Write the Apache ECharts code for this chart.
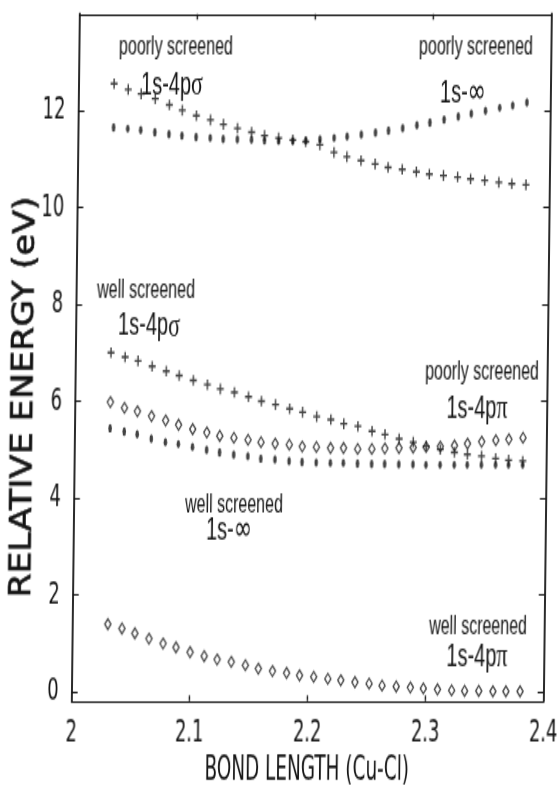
<!DOCTYPE html>
<html>
<head>
<meta charset="utf-8">
<script src="https://cdn.jsdelivr.net/npm/echarts@6/dist/echarts.min.js"></script>
<style>
  html, body { margin: 0; padding: 0; background: #fff; overflow: hidden; }
  /* The plot is laid out in a compressed frame and stretched vertically,
     with a slight horizontal shear, to give the tall narrow lettering. */
  #chart {
    position: absolute; left: 0; top: 0;
    width: 580px; height: 494px;
    transform-origin: 0 0;
    transform: skewX(-0.667deg) scaleY(1.6012);
  }
</style>
</head>
<body>
<div id="chart"></div>
<script>
// Cu-Cl bond length (angstrom)
const bondLength = [2.030, 2.042, 2.053, 2.065, 2.077, 2.088, 2.100, 2.112, 2.123, 2.135,
                    2.147, 2.158, 2.170, 2.182, 2.193, 2.205, 2.217, 2.228, 2.240, 2.252,
                    2.263, 2.275, 2.287, 2.298, 2.310, 2.322, 2.333, 2.345, 2.357, 2.368, 2.380];

// Relative energies (eV)
const poorly4pSigma = [12.56, 12.44, 12.35, 12.25, 12.12, 12.01, 11.90, 11.81, 11.72, 11.64,
                       11.56, 11.49, 11.44, 11.40, 11.36, 11.30, 11.14, 11.05, 10.97, 10.90,
                       10.83, 10.79, 10.74, 10.69, 10.66, 10.63, 10.59, 10.56, 10.52, 10.49, 10.47];
const poorlyInf = [11.66, 11.63, 11.60, 11.56, 11.52, 11.49, 11.46, 11.44, 11.42, 11.41,
                   11.40, 11.39, 11.38, 11.38, 11.39, 11.41, 11.44, 11.47, 11.51, 11.55,
                   11.59, 11.64, 11.70, 11.76, 11.82, 11.88, 11.94, 12.00, 12.06, 12.11, 12.17];
const well4pSigma = [7.00, 6.91, 6.83, 6.72, 6.62, 6.53, 6.43, 6.34, 6.25, 6.18,
                     6.09, 6.00, 5.93, 5.84, 5.77, 5.68, 5.62, 5.53, 5.48, 5.38,
                     5.31, 5.22, 5.15, 5.07, 5.00, 4.94, 4.90, 4.86, 4.81, 4.78, 4.76];
const poorly4pPi = [5.98, 5.86, 5.79, 5.69, 5.60, 5.51, 5.42, 5.35, 5.28, 5.24,
                    5.20, 5.15, 5.12, 5.10, 5.06, 5.05, 5.03, 5.03, 5.01, 5.01,
                    5.02, 5.03, 5.04, 5.05, 5.06, 5.08, 5.12, 5.16, 5.19, 5.21, 5.24];
const wellInf = [5.44, 5.37, 5.31, 5.22, 5.15, 5.11, 5.05, 4.99, 4.94, 4.89,
                 4.86, 4.81, 4.79, 4.76, 4.74, 4.73, 4.72, 4.72, 4.71, 4.70,
                 4.70, 4.69, 4.69, 4.68, 4.68, 4.68, 4.68, 4.68, 4.68, 4.68, 4.68];
const well4pPi = [1.39, 1.30, 1.20, 1.09, 0.99, 0.91, 0.81, 0.73, 0.66, 0.61,
                  0.54, 0.47, 0.42, 0.38, 0.33, 0.30, 0.26, 0.23, 0.19, 0.16,
                  0.12, 0.10, 0.08, 0.06, 0.04, 0.02, 0.01, 0.01, 0.00, 0.00, 0.00];

// Axis ticks
const energyTicks = [0, 2, 4, 6, 8, 10, 12];
const lengthTicks = [2, 2.1, 2.2, 2.3, 2.4];
const innerLengthTicks = [2.1, 2.2, 2.3];

const INK = '#141414';
const NARROW = '"Liberation Sans Narrow", "DejaVu Sans Condensed", "Liberation Sans", sans-serif';
const SANS = '"Liberation Sans", Arial, sans-serif';
const SERIF = '"Liberation Serif", serif';

const pairs = (ys) => bondLength.map((x, i) => [x, ys[i]]);

const PLUS = 'path://M0,5L10,5M5,0L5,10';

const plusStyle = { color: 'transparent', borderColor: INK, borderWidth: 1.4 };
const diamondStyle = { color: 'transparent', borderColor: INK, borderWidth: 1.2 };
const dotStyle = { color: INK };

function label(x, y, text, size) {
  return {
    type: 'text', x: x, y: y,
    style: { text: text, font: size + 'px ' + SANS, fill: INK, align: 'center', verticalAlign: 'middle' }
  };
}
function orbital(x, y, base, greek) {
  const isInf = greek === '∞';
  return {
    type: 'text', x: x, y: y,
    style: {
      text: '{a|' + base + '}{g|' + greek + '}',
      fill: INK, align: 'center', verticalAlign: 'middle',
      rich: {
        a: { fontFamily: SANS, fontSize: 20, fill: INK },
        g: { fontFamily: isInf ? '"DejaVu Sans", sans-serif' : SERIF, fontSize: 22, fill: INK }
      }
    }
  };
}

const chart = echarts.init(document.getElementById('chart'), null, { renderer: 'canvas', width: 580, height: 494 });

const xCommon = {
  type: 'value', min: 2, max: 2.4, gridIndex: 0,
  splitLine: { show: false },
  axisLine: { show: true, onZero: false, lineStyle: { color: INK, width: 1.2 } }
};
const yCommon = {
  type: 'value', min: -0.2, max: 14,
  splitLine: { show: false },
  axisLine: { show: true, onZero: false, lineStyle: { color: INK, width: 1.8 } }
};

chart.setOption({
  animation: false,
  backgroundColor: '#fff',
  grid: { left: 79.7, right: 28.3, top: 8.75, bottom: 56.2, containLabel: false, outerBoundsMode: 'none' },
  xAxis: [
    Object.assign({}, xCommon, {
      position: 'bottom',
      name: 'BOND LENGTH (Cu-Cl)', nameLocation: 'middle', nameGap: 33, nameMoveOverlap: false,
      nameTextStyle: { fontFamily: NARROW, fontSize: 20.5, color: INK },
      axisTick: { show: true, inside: true, length: 3.5, customValues: innerLengthTicks, lineStyle: { color: INK, width: 1.4 } },
      axisLabel: { show: true, margin: 10, customValues: lengthTicks, fontFamily: NARROW, fontSize: 20, color: INK }
    }),
    Object.assign({}, xCommon, {
      position: 'top',
      axisTick: { show: true, inside: true, length: 3.5, customValues: innerLengthTicks, lineStyle: { color: INK, width: 1.4 } },
      axisLabel: { show: false }
    })
  ],
  yAxis: [
    Object.assign({}, yCommon, {
      position: 'left',
      axisTick: { show: true, inside: true, length: 6, customValues: energyTicks, lineStyle: { color: INK, width: 1 } },
      axisLabel: { show: true, margin: 13, customValues: energyTicks, fontFamily: NARROW, fontSize: 20, color: INK }
    }),
    Object.assign({}, yCommon, {
      position: 'right',
      axisTick: { show: true, inside: true, length: 6, customValues: energyTicks, lineStyle: { color: INK, width: 1 } },
      axisLabel: { show: false }
    })
  ],
  series: [
    { name: 'well screened 1s-4pπ', type: 'scatter', data: pairs(well4pPi),
      symbol: 'diamond', symbolSize: [6.2, 6.6], itemStyle: diamondStyle },
    { name: 'poorly screened 1s-4pπ', type: 'scatter', data: pairs(poorly4pPi),
      symbol: 'diamond', symbolSize: [6.2, 6.6], itemStyle: diamondStyle },
    { name: 'well screened 1s-∞', type: 'scatter', data: pairs(wellInf),
      symbol: 'circle', symbolSize: [3.6, 5.4], itemStyle: dotStyle },
    { name: 'poorly screened 1s-∞', type: 'scatter', data: pairs(poorlyInf),
      symbol: 'circle', symbolSize: [3.6, 5.4], itemStyle: dotStyle },
    { name: 'well screened 1s-4pσ', type: 'scatter', data: pairs(well4pSigma),
      symbol: PLUS, symbolSize: [7, 6.6], itemStyle: plusStyle },
    { name: 'poorly screened 1s-4pσ', type: 'scatter', data: pairs(poorly4pSigma),
      symbol: PLUS, symbolSize: [7, 6.6], itemStyle: plusStyle }
  ],
  graphic: [
    // vertical axis title; scaleX offsets the page stretch along the text
    { type: 'text', x: 29.6, y: 248, rotation: Math.PI / 2, scaleX: 0.727,
      style: { text: 'RELATIVE ENERGY (eV)', font: '30px "DejaVu Sans", sans-serif',
               fill: INK, stroke: INK, lineWidth: 0.7,
               align: 'center', verticalAlign: 'middle' } },

    label(176.5, 29.4, 'poorly screened', 16),
    orbital(173, 53.1, '1s-4p', 'σ'),

    label(476.5, 29.4, 'poorly screened', 16),
    orbital(464.1, 58.1, '1s-', '∞'),

    label(149.4, 181.9, 'well screened', 16),
    orbital(152.8, 203.75, '1s-4p', 'σ'),

    label(486.3, 232.5, 'poorly screened', 16),
    orbital(481.7, 255, '1s-4p', 'π'),

    label(239.9, 315.6, 'well screened', 16),
    orbital(235.2, 331, '1s-', '∞'),

    label(485.3, 391.9, 'well screened', 16),
    orbital(484.6, 410.6, '1s-4p', 'π')
  ]
});
</script>
</body>
</html>
